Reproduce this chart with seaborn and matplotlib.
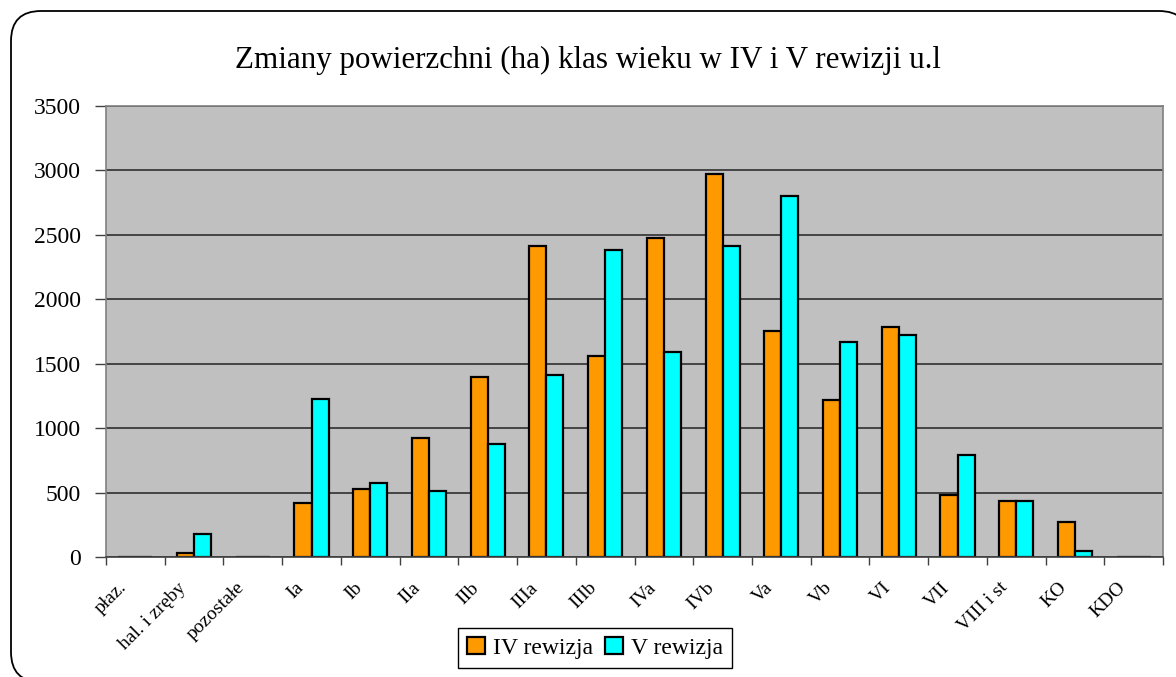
import pandas as pd
import matplotlib
matplotlib.use("Agg")
import matplotlib.pyplot as plt
import seaborn as sns
from matplotlib.patches import FancyBboxPatch
from matplotlib.transforms import IdentityTransform, ScaledTranslation

# Age classes and areas (ha)
klasy = ["płaz.", "hal. i zręby", "pozostałe", "Ia", "Ib", "IIa", "IIb", "IIIa",
         "IIIb", "IVa", "IVb", "Va", "Vb", "VI", "VII", "VIII i st", "KO", "KDO"]
rewizja_iv = [0, 28, 0, 415, 527, 927, 1400, 2411, 1556, 2473, 2969, 1757,
              1218, 1785, 483, 434, 269, 0]
rewizja_v = [0, 182, 0, 1225, 574, 511, 880, 1416, 2380, 1589, 2411, 2798,
             1667, 1723, 793, 434, 49, 0]
serie = ["IV rewizja", "V rewizja"]
kolory = {"IV rewizja": "#FF9900", "V rewizja": "#00FFFF"}

df = pd.DataFrame({
    "klasa": klasy * 2,
    "powierzchnia": rewizja_iv + rewizja_v,
    "rewizja": [serie[0]] * len(klasy) + [serie[1]] * len(klasy),
})

sns.set_theme(style="white")
plt.rcParams["font.family"] = ["Liberation Serif", "DejaVu Serif"]
plt.rcParams["text.color"] = "black"
plt.rcParams["xtick.color"] = "black"
plt.rcParams["ytick.color"] = "black"

fig = plt.figure(figsize=(11.76, 6.77), dpi=100)
ax = fig.add_axes([0.0901, 0.1773, 0.8989, 0.6661])

sns.barplot(data=df, x="klasa", y="powierzchnia", hue="rewizja", order=klasy,
            hue_order=serie, palette=kolory, width=0.58, edgecolor="black",
            linewidth=1.6, saturation=1, ax=ax)

ax.set_facecolor("#C0C0C0")
ax.set_ylim(0, 3500)
ax.set_xlim(-0.5, len(klasy) - 0.5)
ax.set_yticks(range(0, 3501, 500))
ax.yaxis.grid(True, color="#3a3a3a", linewidth=1.3)
ax.set_axisbelow(True)
for s in ax.spines.values():
    s.set_color("#808080")
    s.set_linewidth(1.2)
ax.spines["bottom"].set_color("#404040")

# ticks at category boundaries, labels at centres
ax.set_xticks([i - 0.5 for i in range(len(klasy) + 1)])
ax.set_xticklabels([])
ax.set_xticks(range(len(klasy)), minor=True)
ax.set_xticklabels(klasy, minor=True, rotation=45, ha="right", va="top",
                   rotation_mode="anchor", fontsize=14)
ax.tick_params(axis="x", which="major", length=6, width=1, color="#404040",
               direction="out", bottom=True)
ax.tick_params(axis="x", which="minor", length=0, pad=16)
shift = ScaledTranslation(-17 / 100, 0, fig.dpi_scale_trans)
for lab in ax.get_xticklabels(minor=True):
    lab.set_transform(lab.get_transform() + shift)
ax.tick_params(axis="y", length=8, width=1, color="#404040", direction="out",
               left=True, labelsize=17, pad=10)
ax.set_xlabel("")
ax.set_ylabel("")

handles, labels = ax.get_legend_handles_labels()
ax.get_legend().remove()
fig.legend(handles, labels, loc="center", bbox_to_anchor=(0.506, 0.043), ncol=2,
           fontsize=17, frameon=True, fancybox=False, edgecolor="black",
           handlelength=0.75, handleheight=0.75, handletextpad=0.35,
           columnspacing=0.5, borderpad=0.4, framealpha=1)

fig.text(0.5, 0.911, "Zmiany powierzchni (ha) klas wieku w IV i V rewizji u.l",
         ha="center", va="center", fontsize=22.3)

# rounded chart-area frame, partly running off the right and bottom edges
border = FancyBboxPatch((11, -5), 1178, 671,
                        boxstyle="round,pad=0,rounding_size=30",
                        transform=IdentityTransform(), facecolor="white",
                        edgecolor="black", linewidth=1.3, zorder=-1)
fig.patches.append(border)

fig.savefig("out.png", dpi=100)
